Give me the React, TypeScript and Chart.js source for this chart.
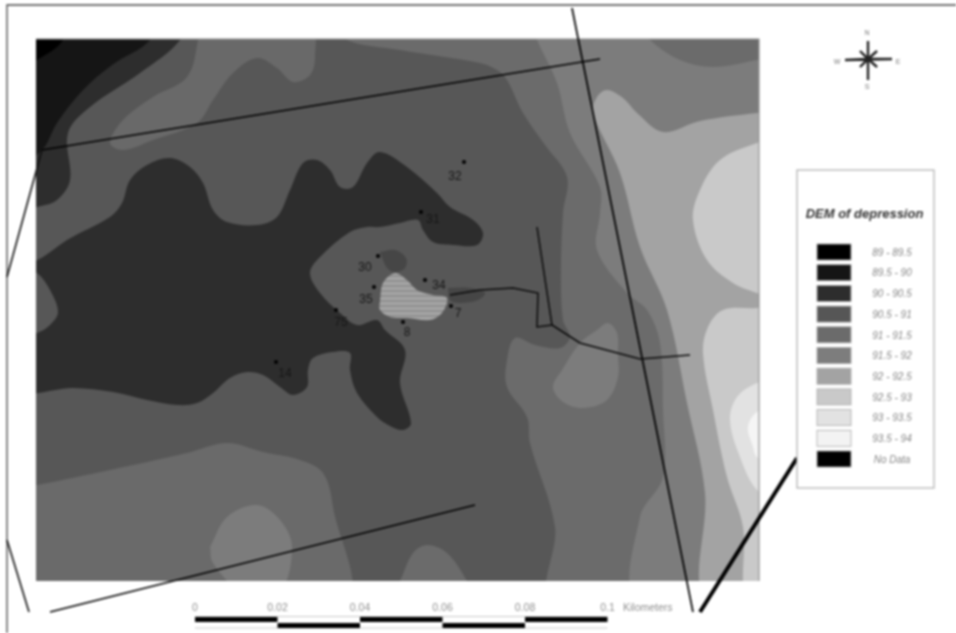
import React, { useEffect, useRef } from "react";
import { Chart, registerables } from "chart.js";
Chart.register(...registerables);

type P = [number, number];

const legendTitle = "DEM of depression";
const legendLabels = ["89 - 89.5", "89.5 - 90", "90 - 90.5", "90.5 - 91", "91 - 91.5", "91.5 - 92", "92 - 92.5", "92.5 - 93", "93 - 93.5", "93.5 - 94", "No Data"];
const legendColors = ["#000000", "#151515", "#2d2d2d", "#565656", "#6b6b6b", "#7d7d7d", "#a3a3a3", "#c9c9c9", "#e2e2e2", "#f3f3f3", "#000000"];

const scaleKm = [0, 0.02, 0.04, 0.06, 0.08, 0.1];
const scaleLabels = ["0", "0.02", "0.04", "0.06", "0.08", "0.1"];

const sites: P[] = [[464, 162], [421, 212], [378, 256], [374, 287], [425, 280], [451, 306], [403, 322], [336, 310], [276, 362]];
const siteNames = ["32", "31", "30", "35", "34", "7", "8", "75", "14"];
const siteLabelAt: P[] = [[455, 177], [433, 220], [365, 268], [366, 300], [439, 286], [458, 314], [407, 333], [341, 323], [285, 374]];

// Elevation zones, listed from the lowest painted layer to the highest
const zoneBase: P[] = [[10, 10], [790, 10], [790, 610], [10, 610], [10, 10]];
const zoneCorner89: P[] = [[15, 20], [60, 20], [63, 40], [37, 60], [15, 70], [15, 20]];
const zoneNW895: P[] = [[15, 20], [150, 20], [150, 40], [112, 65], [83, 90], [57, 123], [42, 150], [15, 165], [15, 20]];
const zoneNW90: P[] = [[15, 20], [180, 20], [180, 40], [140, 73], [90, 107], [68, 133], [70, 180], [57, 200], [37, 207], [15, 212], [15, 20]];
const zoneNW91: P[] = [[198, 25], [198, 40], [187, 77], [153, 97], [123, 120], [110, 143], [123, 150], [153, 140], [197, 123], [213, 100], [233, 73], [257, 58], [277, 68], [293, 82], [310, 75], [315, 57], [310, 25], [198, 25]];
const zoneEast91: P[] = [[347, 25], [347, 40], [400, 50], [480, 63], [497, 70], [507, 80], [523, 113], [545, 145], [567, 177], [563, 213], [561, 270], [563, 320], [570, 337], [560, 348], [535, 345], [515, 338], [507, 360], [507, 387], [527, 417], [530, 443], [555, 527], [553, 600], [780, 600], [780, 25], [347, 25]];
const zoneSW91: P[] = [[20, 487], [37, 485], [110, 470], [187, 453], [227, 443], [263, 452], [300, 460], [323, 473], [333, 507], [343, 600], [20, 600], [20, 487]];
const zoneSouth91: P[] = [[390, 600], [400, 581], [413, 553], [427, 545], [447, 553], [467, 581], [475, 600], [390, 600]];
const zoneEast915: P[] = [[532, 25], [537, 40], [557, 83], [570, 133], [600, 187], [600, 213], [597, 250], [627, 293], [647, 310], [660, 343], [663, 410], [663, 477], [640, 517], [638, 600], [780, 600], [780, 25], [532, 25]];
const zoneNE91: P[] = [[640, 25], [650, 40], [680, 60], [713, 67], [757, 60], [780, 55], [780, 25], [640, 25]];
const zoneMid915: P[] = [[618, 355], [618, 377], [607, 400], [583, 408], [563, 402], [553, 387], [562, 370], [580, 343], [597, 330], [608, 323], [617, 333], [618, 355]];
const zoneSW915: P[] = [[210, 547], [227, 517], [257, 505], [280, 520], [292, 547], [280, 590], [240, 590], [213, 563], [210, 547]];
const zoneEast92: P[] = [[780, 600], [780, 112], [757, 113], [700, 121], [663, 132], [637, 113], [623, 98], [607, 90], [597, 97], [593, 113], [620, 173], [640, 247], [667, 310], [687, 403], [705, 493], [705, 600], [780, 600]];
const zoneEastUp925: P[] = [[780, 138], [757, 143], [720, 160], [700, 190], [693, 220], [707, 260], [733, 283], [757, 293], [780, 300], [780, 138]];
const zoneEastLow925: P[] = [[780, 305], [757, 308], [723, 310], [708, 327], [703, 353], [713, 410], [727, 477], [743, 527], [747, 600], [780, 600], [780, 305]];
const zoneEast93: P[] = [[780, 378], [757, 383], [737, 397], [730, 420], [740, 457], [757, 490], [780, 500], [780, 378]];
const zoneEast935: P[] = [[780, 405], [757, 412], [748, 427], [753, 447], [757, 457], [780, 470], [780, 405]];
const zoneDepression: P[] = [[20, 268], [43, 257], [67, 240], [110, 217], [122, 203], [130, 180], [147, 165], [170, 158], [190, 167], [203, 183], [213, 210], [227, 222], [257, 225], [277, 217], [290, 190], [303, 163], [317, 160], [330, 170], [340, 187], [353, 187], [367, 163], [380, 152], [407, 167], [437, 193], [450, 207], [473, 220], [483, 233], [477, 245], [453, 245], [433, 242], [423, 230], [418, 220], [400, 223], [380, 227], [367, 227], [350, 232], [320, 257], [310, 273], [320, 293], [340, 313], [357, 325], [377, 320], [385, 330], [405, 350], [400, 383], [411, 423], [403, 430], [390, 426], [377, 417], [357, 393], [350, 370], [350, 353], [333, 352], [313, 358], [308, 370], [307, 387], [293, 395], [280, 387], [263, 375], [247, 372], [230, 378], [213, 393], [197, 403], [177, 405], [147, 400], [113, 392], [73, 388], [20, 390], [20, 335], [37, 333], [50, 325], [58, 312], [50, 290], [37, 273], [20, 268]];
const zonePond905a: P[] = [[380, 252], [395, 250], [406, 258], [405, 268], [395, 272], [387, 268], [380, 252]];
const zonePond905b: P[] = [[448, 288], [470, 288], [485, 293], [478, 300], [460, 303], [450, 300], [448, 288]];
const zonePond92: P[] = [[380, 300], [383, 283], [395, 273], [407, 280], [417, 290], [433, 295], [447, 298], [442, 313], [430, 320], [407, 318], [390, 317], [380, 310], [380, 300]];

const mapOutline: P[] = [[36, 39], [759, 39], [759, 581]];
const frameLine: P[] = [[956, 5], [7, 5], [7, 633]];
const faultNorth: P[] = [[42, 150], [600, 59]];
const faultNW: P[] = [[42, 150], [7, 277]];
const faultSW: P[] = [[29, 612], [7, 540]];
const faultSouth: P[] = [[50, 612], [475, 505]];
const faultEast: P[] = [[572, 8], [693, 612]];
const calloutLine: P[] = [[797, 458], [700, 612]];
const channelA: P[] = [[537, 227], [552, 325], [580, 343], [640, 359], [690, 355]];
const channelB: P[] = [[450, 295], [480, 290], [513, 288], [538, 293], [537, 327], [552, 325]];
const compassSpokes: P[] = [[868, 59], [868, 41], [868, 80], [868, 59], [845, 60], [892, 59], [868, 59], [860, 51], [877, 67], [868, 59], [860, 67], [877, 51], [868, 59]];

const xy = (pts: P[]) => pts.map(([x, y]) => ({ x, y }));

const zone = (pts: P[], color: any) => ({
  data: xy(pts), showLine: true, fill: "shape", backgroundColor: color, borderColor: color,
  borderWidth: 0, pointRadius: 0, tension: 0.35,
});
const stroke = (pts: P[], color: string, w: number) => ({
  data: xy(pts), showLine: true, fill: false, borderColor: color, borderWidth: w,
  pointRadius: 0, tension: 0, clip: false as const,
});
const kmBar = (a: number, b: number, y: number, color: string, w: number) => ({
  data: [{ x: a, y }, { x: b, y }], xAxisID: "km", showLine: true, fill: false,
  borderColor: color, borderWidth: w, pointRadius: 0, tension: 0, clip: false as const,
});

function stripes() {
  const c = document.createElement("canvas");
  c.width = 4; c.height = 5;
  const g = c.getContext("2d")!;
  g.fillStyle = "#a5a5a5"; g.fillRect(0, 0, 4, 5);
  g.fillStyle = "#8f8f8f"; g.fillRect(0, 0, 4, 2);
  return g.createPattern(c, "repeat");
}

const textPlugin = {
  id: "mapText",
  afterDatasetsDraw(chart: any) {
    const { ctx, scales } = chart;
    const X = (v: number) => scales.x.getPixelForValue(v);
    const Y = (v: number) => scales.y.getPixelForValue(v);
    ctx.save();
    ctx.textAlign = "center";
    ctx.textBaseline = "middle";

    ctx.font = "12px 'Liberation Sans'";
    ctx.fillStyle = "#161616";
    siteNames.forEach((n, i) => ctx.fillText(n, X(siteLabelAt[i][0]), Y(siteLabelAt[i][1])));

    ctx.font = "10.5px 'Liberation Sans'";
    ctx.fillStyle = "#8f8f8f";
    scaleKm.forEach((k, i) => ctx.fillText(scaleLabels[i], scales.km.getPixelForValue(k), Y(608)));
    ctx.textAlign = "left";
    ctx.fillText("Kilometers", X(623), Y(608));

    ctx.textAlign = "center";
    ctx.font = "7px 'Liberation Sans'";
    ctx.fillStyle = "#777";
    ctx.fillText("N", X(867), Y(33));
    ctx.fillText("S", X(867), Y(87));
    ctx.fillText("W", X(837), Y(62));
    ctx.fillText("E", X(898), Y(62));

    ctx.fillStyle = "#ffffff";
    ctx.strokeStyle = "#b4b4b4";
    ctx.lineWidth = 1.3;
    ctx.fillRect(797, 170, 137, 318);
    ctx.strokeRect(797, 170, 137, 318);

    ctx.font = "italic bold 13px 'Liberation Sans'";
    ctx.fillStyle = "#333";
    ctx.fillText(legendTitle, 864.5, 214);

    ctx.font = "italic 10px 'Liberation Sans'";
    legendLabels.forEach((label, i) => {
      const cy = 252 + i * 20.7;
      ctx.fillStyle = legendColors[i];
      ctx.fillRect(817, cy - 8, 34, 16);
      ctx.strokeStyle = "#aaa";
      ctx.lineWidth = 0.8;
      ctx.strokeRect(817, cy - 8, 34, 16);
      ctx.fillStyle = "#868686";
      ctx.fillText(label, 892, cy + 1);
    });
    ctx.restore();
  },
};

export default function App() {
  const ref = useRef<HTMLCanvasElement>(null);
  useEffect(() => {
    const zones = [
      zone(zoneBase, "#575757"), zone(zoneNW90, "#2d2d2d"), zone(zoneNW895, "#151515"), zone(zoneCorner89, "#000000"),
      zone(zoneNW91, "#696969"), zone(zoneEast91, "#6b6b6b"), zone(zoneSW91, "#6a6a6a"), zone(zoneSouth91, "#6b6b6b"),
      zone(zoneEast915, "#7c7c7c"), zone(zoneNE91, "#6b6b6b"), zone(zoneMid915, "#7c7c7c"), zone(zoneSW915, "#7c7c7c"),
      zone(zoneEast92, "#a3a3a3"), zone(zoneEastUp925, "#c9c9c9"), zone(zoneEastLow925, "#c9c9c9"),
      zone(zoneEast93, "#e2e2e2"), zone(zoneEast935, "#f5f5f5"),
      zone(zoneDepression, "#2d2d2d"), zone(zonePond905a, "#464646"), zone(zonePond905b, "#464646"),
      zone(zonePond92, stripes()),
    ];
    const strokes = [
      stroke(mapOutline, "#8f8f8f", 1.2), stroke(frameLine, "#444444", 1.3),
      stroke(faultNorth, "#000", 1.7), stroke(faultNW, "#111", 1.6), stroke(faultSW, "#111", 1.6),
      stroke(faultSouth, "#000", 1.6), stroke(faultEast, "#000", 1.7), stroke(calloutLine, "#000", 4),
      stroke(channelA, "#0a0a0a", 1.5), stroke(channelB, "#0a0a0a", 1.5),
      stroke(compassSpokes, "#222", 2.4),
      kmBar(scaleKm[0], scaleKm[5], 616.5, "#c8c8c8", 1), kmBar(scaleKm[0], scaleKm[5], 628, "#c8c8c8", 1),
      kmBar(scaleKm[0], scaleKm[1], 619.5, "#000", 5), kmBar(scaleKm[1], scaleKm[2], 625.5, "#000", 5),
      kmBar(scaleKm[2], scaleKm[3], 619.5, "#000", 5), kmBar(scaleKm[3], scaleKm[4], 625.5, "#000", 5),
      kmBar(scaleKm[4], scaleKm[5], 619.5, "#000", 5),
    ];
    const points = {
      data: xy(sites), showLine: false, pointRadius: 2, pointBackgroundColor: "#000", pointBorderWidth: 0,
    };
    const all: any[] = [...zones, ...strokes, points];
    all.forEach((d, i) => { d.order = all.length - i; });
    const chart = new Chart(ref.current!, {
      type: "scatter",
      data: { datasets: all },
      options: {
        animation: false, responsive: false, devicePixelRatio: 1,
        layout: { padding: { left: 36, top: 39, right: 197, bottom: 52 } },
        plugins: { legend: { display: false }, tooltip: { enabled: false } },
        scales: {
          x: { type: "linear", display: false, min: 36, max: 759 },
          y: { type: "linear", display: false, min: 39, max: 581, reverse: true },
          km: { type: "linear", axis: "x", display: false, min: (36 - 195) / 4125, max: (759 - 195) / 4125 },
        },
      } as any,
      plugins: [textPlugin],
    });
    return () => chart.destroy();
  }, []);
  return (
    <canvas
      ref={ref}
      width={956}
      height={633}
      style={{ position: "absolute", left: 0, top: 0, width: 956, height: 633, filter: "blur(0.8px)" }}
    />
  );
}
